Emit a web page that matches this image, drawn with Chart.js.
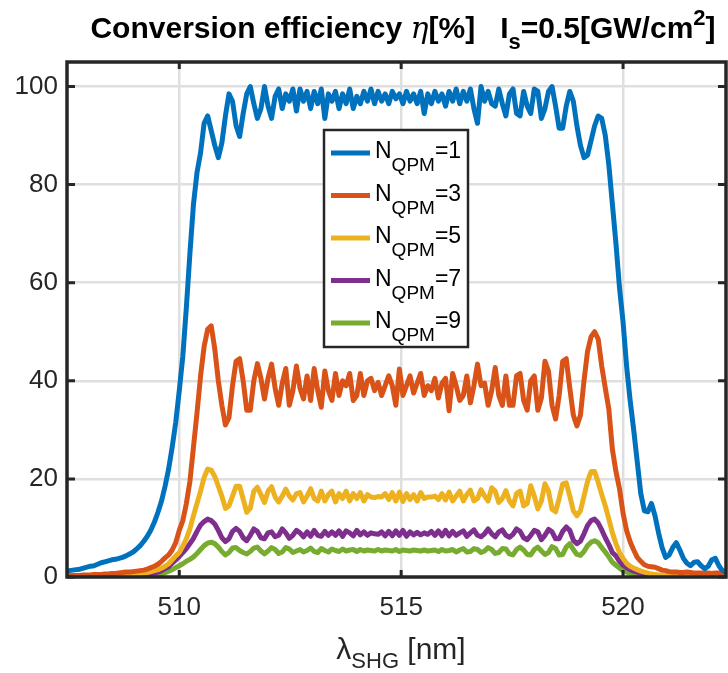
<!DOCTYPE html>
<html>
<head>
<meta charset="utf-8">
<script src="https://cdn.jsdelivr.net/npm/chart.js@4.4.1/dist/chart.umd.min.js"></script>
<style>
  html, body { margin: 0; padding: 0; background: #ffffff; }
  canvas { display: block; }
</style>
</head>
<body>
<canvas id="chart" width="728" height="673"></canvas>
<script>
// Wavelength grid (nm)
const wavelength = [
  507.44, 507.52, 507.60, 507.68, 507.76, 507.84, 507.92, 508.00, 508.08, 508.16,
  508.24, 508.32, 508.40, 508.48, 508.56, 508.64, 508.72, 508.80, 508.88, 508.96,
  509.04, 509.12, 509.20, 509.28, 509.36, 509.44, 509.52, 509.60, 509.68, 509.76,
  509.84, 509.92, 510.00, 510.08, 510.16, 510.24, 510.32, 510.40, 510.48, 510.56,
  510.64, 510.72, 510.80, 510.88, 510.96, 511.04, 511.12, 511.20, 511.28, 511.36,
  511.44, 511.52, 511.60, 511.68, 511.76, 511.84, 511.92, 512.00, 512.08, 512.16,
  512.24, 512.32, 512.40, 512.48, 512.56, 512.64, 512.72, 512.80, 512.88, 512.96,
  513.04, 513.12, 513.20, 513.28, 513.36, 513.44, 513.52, 513.60, 513.68, 513.76,
  513.84, 513.92, 514.00, 514.08, 514.16, 514.24, 514.32, 514.40, 514.48, 514.56,
  514.64, 514.72, 514.80, 514.88, 514.96, 515.04, 515.12, 515.20, 515.28, 515.36,
  515.44, 515.52, 515.60, 515.68, 515.76, 515.84, 515.92, 516.00, 516.08, 516.16,
  516.24, 516.32, 516.40, 516.48, 516.56, 516.64, 516.72, 516.80, 516.88, 516.96,
  517.04, 517.12, 517.20, 517.28, 517.36, 517.44, 517.52, 517.60, 517.68, 517.76,
  517.84, 517.92, 518.00, 518.08, 518.16, 518.24, 518.32, 518.40, 518.48, 518.56,
  518.64, 518.72, 518.80, 518.88, 518.96, 519.04, 519.12, 519.20, 519.28, 519.36,
  519.44, 519.52, 519.60, 519.68, 519.76, 519.84, 519.92, 520.00, 520.08, 520.16,
  520.24, 520.32, 520.40, 520.48, 520.56, 520.64, 520.72, 520.80, 520.88, 520.96,
  521.04, 521.12, 521.20, 521.28, 521.36, 521.44, 521.52, 521.60, 521.68, 521.76,
  521.84, 521.92, 522.00, 522.08, 522.16, 522.24, 522.32
];

// Conversion efficiency (%) per N_QPM
const effN1 = [
  1.2, 1.3, 1.4, 1.5, 1.6, 1.8, 2.0, 2.2, 2.3, 2.6,
  2.9, 3.1, 3.3, 3.5, 3.6, 3.8, 4.0, 4.3, 4.7, 5.1,
  5.7, 6.4, 7.3, 8.3, 9.6, 11.2, 13.2, 15.5, 18.5, 22,
  26.5, 31.5, 38, 45, 55, 66, 76, 82.5, 86.5, 92.5,
  94, 91, 88, 85.5, 88.5, 94, 98.5, 97, 92, 89.8,
  94.5, 98.5, 100, 96.5, 93.5, 95.5, 100, 96, 93.5, 98,
  99.5, 95.5, 98.5, 97, 99.5, 95, 99.5, 97, 99, 95.5,
  99, 96.5, 99.5, 93.5, 98.5, 97, 99, 95.5, 98.5, 96.5,
  99.5, 95.5, 98, 96.5, 99, 97, 99.5, 96.5, 99, 97,
  98.5, 96.5, 99, 97.5, 98.5, 96.5, 99, 97, 98.5, 96.5,
  99, 94.5, 98.5, 96.5, 99, 97, 98.5, 96, 99, 97,
  99.5, 96.5, 99, 97, 99.5, 95.5, 92.5, 100, 97, 99,
  96.5, 96, 99.5, 96.5, 94, 98.5, 99.5, 94.5, 94, 99,
  96, 94.5, 99.5, 99, 93.5, 95.5, 99, 100, 96, 91.5,
  91.5, 96, 99, 97, 92, 88, 85.5, 86, 89, 92,
  94, 93.5, 90, 84, 76, 68, 59, 52, 43, 36,
  30, 23.5, 17, 13.5, 13.3, 15, 12.5, 9, 6, 4,
  4.5, 6, 7, 5.5, 3.8, 2.8, 2.3, 3, 3.1, 2.3,
  1.7, 2.2, 3.5, 3.8, 2.3, 1.3, 1
];
const effN3 = [
  0.3, 0.3, 0.3, 0.3, 0.3, 0.4, 0.4, 0.4, 0.5, 0.5,
  0.5, 0.6, 0.6, 0.7, 0.7, 0.8, 0.9, 1.0, 1.0, 1.1,
  1.2, 1.3, 1.4, 1.6, 1.9, 2.2, 2.6, 3.2, 3.9, 4.5,
  5.5, 7, 9.5, 11.5, 15, 19.5, 26.5, 33.5, 41, 47,
  50.5, 51.2, 46.5, 40, 35, 31, 32.5, 39, 44, 44.5,
  40, 34, 34, 40, 43.5, 40.5, 36.3, 40.5, 43.4, 38.5,
  35, 39.5, 42.5, 35, 38, 43, 38.5, 36.3, 41, 36,
  42.5, 38, 34.6, 42, 38, 36, 41.5, 37, 40, 39,
  41.5, 36, 37, 41.5, 37, 40, 40.5, 38, 39.7, 37,
  39, 41, 39, 35, 42.4, 37, 39, 41, 37.5, 39.5,
  41.5, 37, 39, 38, 40.5, 36.5, 39.5, 40.5, 33.9, 41.5,
  39, 36, 37, 41, 35.5, 39, 43.4, 39, 39.5, 35,
  38, 42.7, 37, 35, 41, 35, 35, 41, 41.5, 36,
  34, 40, 41, 34, 36.5, 44, 42, 35, 32.2, 37,
  44, 44.5, 38.5, 33, 30.8, 33, 40, 46, 49, 50,
  48.5, 43, 38.5, 34.2, 26, 21.5, 18, 13, 9.5, 7.2,
  5.5, 4, 3.2, 2.5, 2.2, 2.1, 2.0, 1.7, 1.4, 1.3,
  1.1, 1.0, 1.0, 0.9, 0.9, 1.0, 0.9, 0.8, 0.8, 0.8,
  0.8, 0.8, 0.7, 0.8, 0.8, 0.7, 0.7
];
const effN5 = [
  0.2, 0.2, 0.2, 0.2, 0.2, 0.2, 0.2, 0.2, 0.2, 0.2,
  0.2, 0.2, 0.2, 0.2, 0.3, 0.3, 0.3, 0.4, 0.4, 0.5,
  0.6, 0.7, 0.8, 0.9, 1.1, 1.3, 1.5, 1.8, 2.2, 2.7,
  3.5, 4.3, 5.0, 6.3, 7.8, 9.8, 12.5, 15, 17.5, 20.3,
  22, 21.8, 20.5, 18.5, 16.5, 14, 14.5, 16.5, 18.5, 18.5,
  15.9, 13.2, 14, 17.5, 18.3, 16.8, 15.2, 17.5, 18.4, 16.3,
  15.3, 16.5, 17.9, 16.5, 15.7, 17, 17.2, 15.3, 16.5, 18,
  16, 15.5, 17.5, 15.5, 16.8, 17.5, 15.3, 17, 16, 17.5,
  15.5, 17, 16, 17.2, 15.5, 16.8, 16.3, 16.2, 16.4, 16.3,
  17, 15.8, 17.2, 15.5, 17.3, 15.4, 17, 15.8, 16.8, 15.5,
  17.2, 16, 16.3, 16.3, 16.5, 15.8, 17, 15.7, 17.3, 15.5,
  16.5, 17.5, 15.5, 16.8, 17.7, 15.5, 16, 17.8, 16.5, 15.5,
  18.2, 17.5, 15.2, 16, 17.6, 15.5, 14.5, 17, 17.5, 14.5,
  15, 18.6, 16.5, 13.9, 15.5, 19, 17.5, 13.8, 13.3, 16,
  19, 19.2, 16.5, 13.5, 12.5, 13.5, 16.5, 19.5, 21.5, 21.5,
  19.3, 16.8, 14.5, 11.8, 9, 6.8, 5, 3.8, 2.8, 2.2,
  1.8, 1.5, 1.2, 1.0, 0.8, 0.6, 0.5, 0.4, 0.4, 0.3,
  0.3, 0.3, 0.3, 0.3, 0.3, 0.3, 0.3, 0.3, 0.3, 0.3,
  0.3, 0.3, 0.2, 0.2, 0.2, 0.2, 0.2
];
const effN7 = [
  0.1, 0.1, 0.1, 0.1, 0.1, 0.1, 0.1, 0.1, 0.1, 0.1,
  0.1, 0.1, 0.1, 0.1, 0.1, 0.1, 0.2, 0.2, 0.2, 0.2,
  0.2, 0.3, 0.4, 0.5, 0.6, 0.8, 1.0, 1.3, 1.7, 2.1,
  2.8, 3.5, 4.2, 5.0, 5.8, 6.8, 7.9, 9.3, 10.6, 11.3,
  11.8, 11.5, 10.8, 9.5, 8, 7.2, 7.8, 9.3, 9.9, 9.3,
  8, 7.4, 8.5, 9.8, 9.3, 8, 7.8, 9, 9.2, 8.2,
  8.5, 9.8, 9, 7.9, 8.5, 9.5, 9, 8.2, 9.2, 8.3,
  9.5, 8.5, 8.3, 9.3, 8.5, 9.2, 8.5, 9.4, 8.3, 9.4,
  9, 8.4, 9.5, 8.6, 9.2, 8.5, 9, 8.8, 8.7, 9.2,
  8.4, 9.3, 8.4, 9.4, 8.5, 9.5, 8.3, 9.2, 8.6, 9.1,
  8.6, 9, 8.7, 9.3, 8.5, 9.4, 8.4, 9.5, 8.4, 9.3,
  8.5, 9, 9.4, 8.3, 9, 9.6, 8.5, 8.2, 8.8, 9.8,
  8.8, 8.2, 9.2, 9.6, 8.5, 8.1, 8.7, 9.8, 9.3, 8,
  7.6, 8.5, 9.5, 9.2, 7.6, 8.5, 9.7, 9.2, 7.8, 7.8,
  9.3, 10.2, 9.5, 7.5, 6.8, 7.3, 8.8, 10.5, 11.5, 11.8,
  11, 9.6, 8, 6.6, 5, 4.3, 3.2, 2.4, 1.9, 1.5,
  1.2, 1.0, 0.8, 0.6, 0.5, 0.4, 0.3, 0.3, 0.2, 0.2,
  0.2, 0.2, 0.2, 0.2, 0.2, 0.2, 0.2, 0.2, 0.2, 0.2,
  0.2, 0.2, 0.2, 0.2, 0.2, 0.2, 0.2
];
const effN9 = [
  0.1, 0.1, 0.1, 0.1, 0.1, 0.1, 0.1, 0.1, 0.1, 0.1,
  0.1, 0.1, 0.1, 0.1, 0.1, 0.1, 0.1, 0.1, 0.1, 0.1,
  0.1, 0.1, 0.2, 0.3, 0.3, 0.4, 0.5, 0.7, 0.9, 1.2,
  1.5, 1.9, 2.3, 2.7, 3.2, 3.6, 4.1, 4.8, 5.6, 6.4,
  6.9, 7.1, 6.8, 6.1, 5.2, 4.5, 5, 5.9, 6, 5.4,
  5, 4.7, 5.2, 5.9, 6.1, 5.3, 4.7, 5.3, 6, 5.6,
  4.8, 5.1, 6, 5.7, 5, 5.3, 5.6, 5.1, 5.4, 5.9,
  5.2, 5, 5.8, 5.4, 5.1, 5.7, 5.4, 5.2, 5.7, 5.3,
  5.5, 5.6, 5.2, 5.6, 5.3, 5.5, 5.4, 5.3, 5.6, 5.3,
  5.5, 5.4, 5.3, 5.6, 5.2, 5.5, 5.4, 5.3, 5.5, 5.4,
  5.3, 5.5, 5.3, 5.4, 5.5, 5.2, 5.6, 5.3, 5.4, 5.6,
  5.1, 5.5, 5.8, 5.1, 5.2, 5.8, 5.6, 5, 5.3, 6,
  5.6, 4.8, 5, 5.8, 5.7, 4.7, 4.5, 5.6, 6.1, 5.5,
  4.6, 4.5, 5.6, 6.1, 5.3, 4.6, 5, 6.2, 5.8, 4.5,
  4.6, 6.1, 6.8, 5.6, 4.6, 4.4, 5.2, 6.4, 7.1, 7.4,
  7, 6, 5.1, 4.1, 3, 2.4, 1.8, 1.3, 1.0, 0.8,
  0.7, 0.5, 0.4, 0.3, 0.3, 0.2, 0.2, 0.2, 0.2, 0.2,
  0.2, 0.2, 0.2, 0.2, 0.2, 0.2, 0.2, 0.2, 0.2, 0.2,
  0.1, 0.1, 0.1, 0.1, 0.1, 0.1, 0.1
];

const seriesNames = ['1', '3', '5', '7', '9'];
const seriesColors = ['#0072BD', '#D95319', '#EDB120', '#7E2F8E', '#77AC30'];
const xTicks = [510, 515, 520];
const yTicks = [0, 20, 40, 60, 80, 100];

const FONT = "'Liberation Sans', Arial, Helvetica, sans-serif";
const INK = '#262626';

// draws a run of text pieces (with sub/superscript offsets) starting at x
function drawRuns(ctx, runs, x, y, align) {
    let total = 0;
    runs.forEach(r => { ctx.font = r.font; r.w = ctx.measureText(r.text).width; total += r.w; });
    let cx = align === 'center' ? x - total / 2 : x;
    runs.forEach(r => {
        ctx.font = r.font;
        ctx.fillText(r.text, cx, y + (r.dy || 0));
        cx += r.w;
    });
}

const framePlugin = {
    id: 'frame',
    afterDraw(chart) {
        const ctx = chart.ctx;
        const a = chart.chartArea;
        const xs = chart.scales.x;
        const ys = chart.scales.y;
        ctx.save();

        // axes box and inward ticks
        ctx.strokeStyle = INK;
        ctx.lineWidth = 3.5;
        ctx.strokeRect(a.left, a.top, a.right - a.left, a.bottom - a.top);
        ctx.lineWidth = 3;
        ctx.beginPath();
        xTicks.forEach(v => {
            const px = xs.getPixelForValue(v);
            ctx.moveTo(px, a.bottom); ctx.lineTo(px, a.bottom - 7);
            ctx.moveTo(px, a.top); ctx.lineTo(px, a.top + 7);
        });
        yTicks.forEach(v => {
            const py = ys.getPixelForValue(v);
            ctx.moveTo(a.left, py); ctx.lineTo(a.left + 8, py);
            ctx.moveTo(a.right, py); ctx.lineTo(a.right - 8, py);
        });
        ctx.stroke();

        // legend
        const lx = 324, ly = 130, lw = 144, lh = 217;
        ctx.fillStyle = '#ffffff';
        ctx.fillRect(lx, ly, lw, lh);
        ctx.strokeStyle = INK;
        ctx.lineWidth = 2.5;
        ctx.strokeRect(lx, ly, lw, lh);
        ctx.textBaseline = 'alphabetic';
        ctx.textAlign = 'left';
        seriesNames.forEach((n, i) => {
            const yy = 153 + i * 42.5;
            ctx.strokeStyle = seriesColors[i];
            ctx.lineWidth = 5;
            ctx.beginPath();
            ctx.moveTo(331, yy); ctx.lineTo(370, yy);
            ctx.stroke();
            ctx.fillStyle = '#000000';
            drawRuns(ctx, [
                { text: 'N', font: `23px ${FONT}` },
                { text: 'QPM', font: `19px ${FONT}`, dy: 13 },
                { text: '=' + n, font: `23px ${FONT}` }
            ], 375, yy + 5, 'left');
        });

        // title
        ctx.fillStyle = '#000000';
        drawRuns(ctx, [
            { text: 'Conversion efficiency ', font: `bold 30px ${FONT}` },
            { text: 'η', font: `italic 30px 'DejaVu Serif', serif` },
            { text: '[%]   I', font: `bold 30px ${FONT}` },
            { text: 's', font: `bold 22px ${FONT}`, dy: 11 },
            { text: '=0.5[GW/cm', font: `bold 30px ${FONT}` },
            { text: '2', font: `bold 22px ${FONT}`, dy: -13 },
            { text: ']', font: `bold 30px ${FONT}` }
        ], 403, 38, 'center');

        // x axis label
        ctx.fillStyle = INK;
        drawRuns(ctx, [
            { text: 'λ', font: `30px ${FONT}` },
            { text: 'SHG', font: `22px ${FONT}`, dy: 9 },
            { text: ' [nm]', font: `30px ${FONT}` }
        ], 401, 659, 'center');

        ctx.restore();
    }
};

const datasets = [effN1, effN3, effN5, effN7, effN9].map((vals, i) => ({
    label: 'N_QPM=' + seriesNames[i],
    data: wavelength.map((w, k) => ({ x: w, y: vals[k] })),
    borderColor: seriesColors[i],
    borderWidth: 5,
    borderJoinStyle: 'round',
    borderCapStyle: 'round',
    pointRadius: 0,
    tension: 0,
    fill: false
}));

new Chart(document.getElementById('chart').getContext('2d'), {
    type: 'line',
    data: { datasets },
    options: {
        responsive: false,
        animation: false,
        events: [],
        layout: { padding: { left: 0, right: 2, top: 62, bottom: 0 } },
        plugins: {
            legend: { display: false },
            title: { display: false },
            tooltip: { enabled: false }
        },
        scales: {
            x: {
                type: 'linear',
                min: 507.47,
                max: 522.32,
                afterBuildTicks: s => { s.ticks = xTicks.map(v => ({ value: v })); },
                afterFit: s => { s.height = 96; },
                grid: { color: '#dfdfdf', lineWidth: 2.5, drawTicks: false },
                border: { display: false },
                ticks: { color: INK, font: { family: FONT, size: 26 }, padding: 15, maxRotation: 0 }
            },
            y: {
                min: 0,
                max: 105,
                afterBuildTicks: s => { s.ticks = yTicks.map(v => ({ value: v })); },
                afterFit: s => { s.width = 67; },
                grid: { color: '#dfdfdf', lineWidth: 2.5, drawTicks: false },
                border: { display: false },
                ticks: { color: INK, font: { family: FONT, size: 26 }, padding: 9 }
            }
        }
    },
    plugins: [framePlugin]
});
</script>
</body>
</html>
